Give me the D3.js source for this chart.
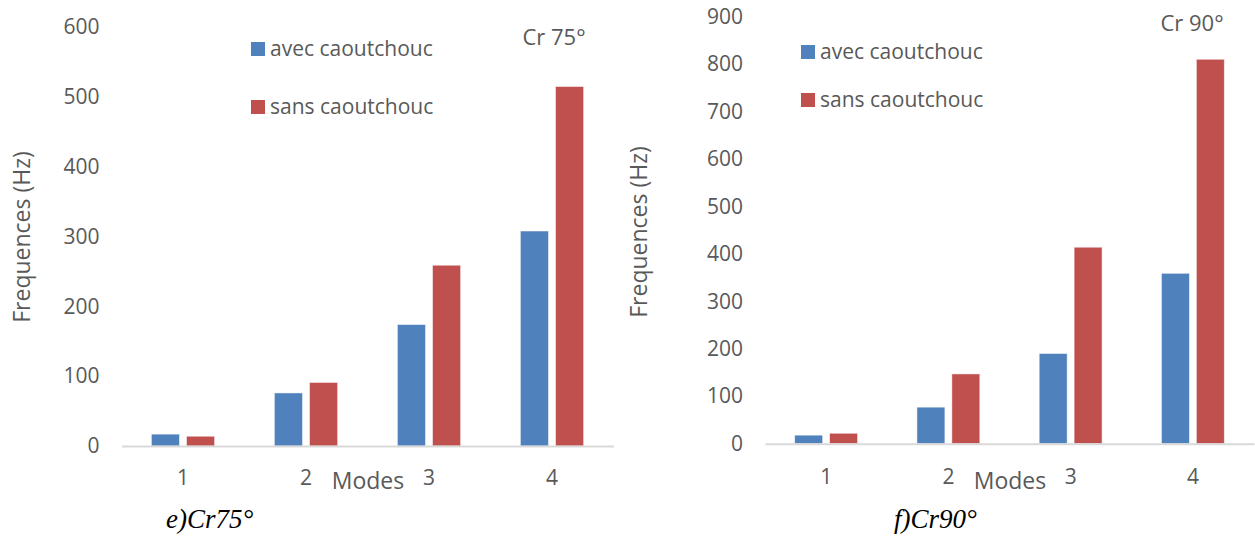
<!DOCTYPE html>
<html>
<head>
<meta charset="utf-8">
<script src="https://cdn.jsdelivr.net/npm/d3@7"></script>
<style>
  html, body { margin: 0; padding: 0; background: #fff; }
  svg { display: block; }
  text { font-family: "Open Sans", sans-serif; fill: #595959; }
</style>
</head>
<body>
<svg id="chart" width="1255" height="539"></svg>
<script>
const modes = ["1", "2", "3", "4"];
const seriesNames = ["avec caoutchouc", "sans caoutchouc"];
const seriesColors = ["#4f81bd", "#c0504d"];

// Chart e) Cr 75°
const avec75 = [17, 76, 174, 308];
const sans75 = [14, 91, 259, 515];
const ticks75 = [0, 100, 200, 300, 400, 500, 600];

// Chart f) Cr 90°
const avec90 = [18, 77, 190, 359];
const sans90 = [22, 147, 414, 810];
const ticks90 = [0, 100, 200, 300, 400, 500, 600, 700, 800, 900];

const svg = d3.select("#chart");

function drawPanel(cfg) {
  const g = svg.append("g");
  const y = d3.scaleLinear().domain([0, cfg.ticks[cfg.ticks.length - 1]]).range([cfg.y0, cfg.yTop]);
  const x = d3.scaleBand().domain(modes).range([cfg.x0, cfg.x1]).padding(0);
  const xs = d3.scaleBand().domain(seriesNames).range([0, x.step()])
    .paddingInner(0.2).paddingOuter(0.85);

  // y axis labels
  const ya = g.append("g").attr("transform", `translate(${cfg.x0},0)`)
    .call(d3.axisLeft(y).tickValues(cfg.ticks).tickSize(0).tickPadding(22).tickFormat(d3.format("d")));
  ya.select(".domain").remove();
  ya.selectAll("text").style("font-family", "'Open Sans', sans-serif").style("font-size", "21px").attr("fill", "#595959");

  // bars
  const data = [cfg.avec, cfg.sans];
  data.forEach((vals, si) => {
    g.append("g").selectAll("rect").data(vals).join("rect")
      .attr("x", (d, i) => x(modes[i]) + xs(seriesNames[si]))
      .attr("y", d => y(d))
      .attr("width", xs.bandwidth())
      .attr("height", d => y(0) - y(d))
      .attr("fill", seriesColors[si])
      .attr("stroke", "#ffffff")
      .attr("stroke-opacity", 0.6)
      .attr("stroke-width", 0.8);
  });

  // x axis
  const xa = g.append("g").attr("transform", `translate(0,${cfg.y0})`)
    .call(d3.axisBottom(x).tickSize(0).tickSizeOuter(0).tickPadding(cfg.xPad));
  xa.select(".domain").attr("stroke", "#d9d9d9").attr("stroke-width", 2);
  xa.selectAll("text").style("font-family", "'Open Sans', sans-serif").style("font-size", "21px").attr("fill", "#595959");

  // axis titles
  g.append("text")
    .attr("transform", `translate(${cfg.yTitleX},${cfg.yTitleY}) rotate(-90)`)
    .attr("text-anchor", "middle").attr("dy", "0.35em")
    .style("font-size", "23px")
    .text("Frequences (Hz)");
  g.append("text")
    .attr("x", cfg.modesX).attr("y", 481).attr("dy", "0.35em")
    .attr("text-anchor", "middle")
    .style("font-size", "23px")
    .text("Modes");

  // chart label
  g.append("text")
    .attr("x", cfg.crX).attr("y", cfg.crY).attr("dy", "0.35em")
    .attr("text-anchor", "middle")
    .style("font-size", "22px")
    .text(cfg.crText);

  // legend
  seriesNames.forEach((name, i) => {
    const ly = cfg.legY[i];
    g.append("rect").attr("x", cfg.legX).attr("y", ly - 7).attr("width", 14).attr("height", 14)
      .attr("fill", seriesColors[i]);
    g.append("text").attr("x", cfg.legX + 19).attr("y", ly).attr("dy", "0.35em")
      .style("font-size", "21px").text(name);
  });

  // caption
  g.append("text")
    .attr("x", cfg.capX).attr("y", 528)
    .style("font-family", "'Liberation Serif', 'Times New Roman', serif")
    .style("font-style", "italic")
    .style("font-size", "27px")
    .style("fill", "#000")
    .text(cfg.caption);
}

drawPanel({
  avec: avec75, sans: sans75, ticks: ticks75,
  y0: 446, yTop: 446 - 600 * 0.698,
  x0: 121.5, x1: 613.5, xPad: 23.6,
  yTitleX: 22, yTitleY: 237, modesX: 368,
  crX: 554, crY: 37, crText: "Cr 75°",
  legX: 251, legY: [49, 107],
  capX: 166, caption: "e)Cr75°"
});

drawPanel({
  avec: avec90, sans: sans90, ticks: ticks90,
  y0: 443.7, yTop: 443.7 - 900 * 0.4746,
  x0: 765, x1: 1254, xPad: 25.9,
  yTitleX: 639, yTitleY: 232, modesX: 1010,
  crX: 1192, crY: 23, crText: "Cr 90°",
  legX: 801, legY: [52, 100],
  capX: 894, caption: "f)Cr90°"
});
</script>
</body>
</html>
